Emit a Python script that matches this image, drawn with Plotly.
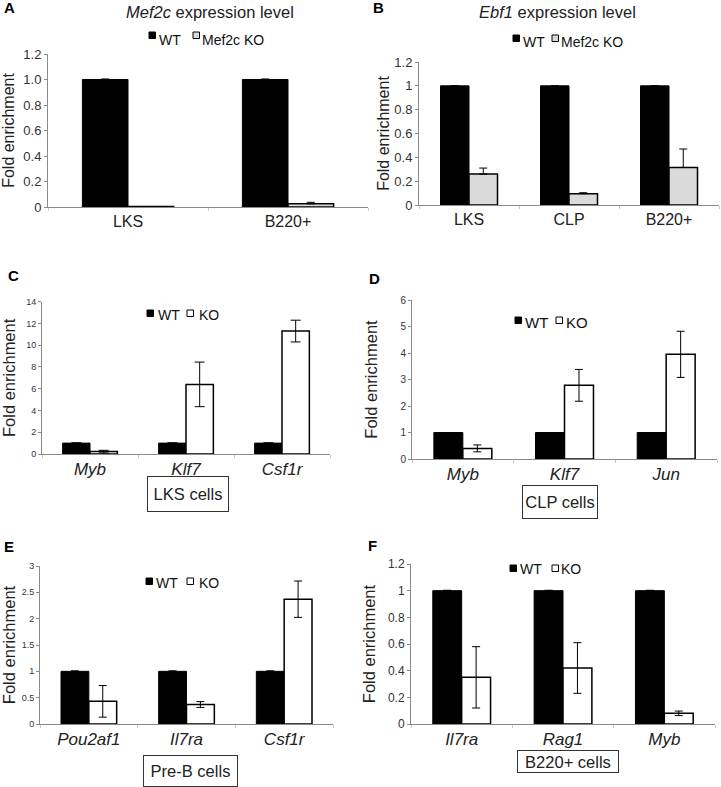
import plotly.graph_objects as go

# ---------------- DATA ----------------
a_cats = ["LKS", "B220+"]
a_wt = [1.0, 1.0]
a_wt_err = [0.004, 0.004]
a_ko = [0.003, 0.025]
a_ko_err = [0.0, 0.012]

b_cats = ["LKS", "CLP", "B220+"]
b_wt = [1.0, 1.0, 1.0]
b_wt_err = [0.0, 0.0, 0.0]
b_ko = [0.26, 0.095, 0.315]
b_ko_err = [0.05, 0.008, 0.155]

c_cats = ["Myb", "Klf7", "Csf1r"]
c_wt = [1.0, 1.0, 1.0]
c_wt_err = [0.04, 0.04, 0.04]
c_ko = [0.22, 6.4, 11.3]
c_ko_err = [0.12, 2.05, 1.0]

d_cats = ["Myb", "Klf7", "Jun"]
d_wt = [1.0, 1.0, 1.0]
d_wt_err = [0.0, 0.0, 0.0]
d_ko = [0.4, 2.78, 3.95]
d_ko_err = [0.13, 0.6, 0.87]

e_cats = ["Pou2af1", "Il7ra", "Csf1r"]
e_wt = [1.0, 1.0, 1.0]
e_wt_err = [0.01, 0.01, 0.01]
e_ko = [0.43, 0.37, 2.37]
e_ko_err = [0.3, 0.055, 0.345]

f_cats = ["Il7ra", "Rag1", "Myb"]
f_wt = [1.0, 1.0, 1.0]
f_wt_err = [0.003, 0.003, 0.003]
f_ko = [0.35, 0.42, 0.08]
f_ko_err = [0.23, 0.19, 0.017]

a_ticks = [0, 0.2, 0.4, 0.6, 0.8, 1.0, 1.2]
a_ticktext = ["0", "0.2", "0.4", "0.6", "0.8", "1.0", "1.2"]
b_ticks = [0, 0.2, 0.4, 0.6, 0.8, 1.0, 1.2]
b_ticktext = ["0", "0.2", "0.4", "0.6", "0.8", "1", "1.2"]
c_ticks = [0, 2, 4, 6, 8, 10, 12, 14]
c_ticktext = ["0", "2", "4", "6", "8", "10", "12", "14"]
d_ticks = [0, 1, 2, 3, 4, 5, 6]
d_ticktext = ["0", "1", "2", "3", "4", "5", "6"]
e_ticks = [0, 0.5, 1, 1.5, 2, 2.5, 3]
e_ticktext = ["0", "0.5", "1", "1.5", "2", "2.5", "3"]
f_ticks = [0, 0.2, 0.4, 0.6, 0.8, 1.0, 1.2]
f_ticktext = ["0", "0.2", "0.4", "0.6", "0.8", "1", "1.2"]

# ---------------- LAYOUT HELPERS ----------------
W, H = 721, 787
FONT = "Liberation Sans, Arial, sans-serif"
AXC = "#8a8a8a"


def fx(x):
    return x / W


def fy(y):
    return 1 - y / H


fig = go.Figure()

panels = [
    dict(cats=a_cats, wt=a_wt, wt_err=a_wt_err, ko=a_ko, ko_err=a_ko_err, sym=False,
         kocol="#dadada", koname="Mef2c KO", ymax=1.2, tv=a_ticks, tt=a_ticktext,
         x0=48, x1=368, yb=207, yt=54, tfs=13, cfs=16, ital=False, so=8, cap=4,
         leg=dict(s1=(149, 32), t1=(158, 40), s2=(193, 32), t2=(201, 40), sz=6.5, fs=14)),
    dict(cats=b_cats, wt=b_wt, wt_err=b_wt_err, ko=b_ko, ko_err=b_ko_err, sym=False,
         kocol="#dadada", koname="Mef2c KO", ymax=1.2, tv=b_ticks, tt=b_ticktext,
         x0=419, x1=719, yb=205, yt=62, tfs=13, cfs=16, ital=False, so=0, cap=4,
         leg=dict(s1=(513, 35), t1=(522, 42), s2=(552, 35), t2=(560, 42), sz=6.5, fs=14)),
    dict(cats=c_cats, wt=c_wt, wt_err=c_wt_err, ko=c_ko, ko_err=c_ko_err, sym=True,
         kocol="#ffffff", koname="KO", ymax=14, tv=c_ticks, tt=c_ticktext,
         x0=42, x1=330, yb=454, yt=301.7, tfs=9, cfs=17, ital=True, so=6, cap=5,
         leg=dict(s1=(147, 310), t1=(157, 314.5), s2=(187, 310), t2=(198, 314.5), sz=6.5, fs=14)),
    dict(cats=d_cats, wt=d_wt, wt_err=d_wt_err, ko=d_ko, ko_err=d_ko_err, sym=True,
         kocol="#ffffff", koname="KO", ymax=6, tv=d_ticks, tt=d_ticktext,
         x0=412, x1=717, yb=459, yt=300, tfs=10, cfs=17, ital=True, so=18, cap=4,
         leg=dict(s1=(515, 317), t1=(524, 322.5), s2=(556, 317), t2=(565, 322.5), sz=6.5, fs=15)),
    dict(cats=e_cats, wt=e_wt, wt_err=e_wt_err, ko=e_ko, ko_err=e_ko_err, sym=True,
         kocol="#ffffff", koname="KO", ymax=3, tv=e_ticks, tt=e_ticktext,
         x0=40, x1=333, yb=724, yt=566, tfs=9, cfs=17, ital=True, so=6, cap=4,
         leg=dict(s1=(146, 578), t1=(155, 582.5), s2=(187, 578), t2=(198, 582.5), sz=6.5, fs=14)),
    dict(cats=f_cats, wt=f_wt, wt_err=f_wt_err, ko=f_ko, ko_err=f_ko_err, sym=True,
         kocol="#ffffff", koname="KO", ymax=1.2, tv=f_ticks, tt=f_ticktext,
         x0=411, x1=715, yb=724, yt=564, tfs=12, cfs=17, ital=True, so=8, cap=4,
         leg=dict(s1=(510, 565), t1=(519, 569), s2=(552, 565), t2=(560, 569), sz=6.5, fs=14)),
]

layout_axes = {}
shapes = []
annotations = []


def errbar(vals, sym, cap):
    if sym:
        return dict(type="data", array=vals, symmetric=True,
                    color="black", thickness=1, width=cap)
    return dict(type="data", array=vals, arrayminus=[0] * len(vals), symmetric=False,
                color="black", thickness=1, width=cap)


for i, p in enumerate(panels):
    n = i + 1
    xa = "x" if n == 1 else f"x{n}"
    ya = "y" if n == 1 else f"y{n}"
    fig.add_trace(go.Bar(x=p["cats"], y=p["wt"], name="WT", xaxis=xa, yaxis=ya,
                         marker=dict(color="black", line=dict(color="black", width=1)),
                         error_y=errbar(p["wt_err"], p["sym"], p["cap"]), showlegend=False,
                         offsetgroup="wt"))
    fig.add_trace(go.Bar(x=p["cats"], y=p["ko"], name=p["koname"], xaxis=xa, yaxis=ya,
                         marker=dict(color=p["kocol"], line=dict(color="black", width=1.5)),
                         error_y=errbar(p["ko_err"], p["sym"], p["cap"]), showlegend=False,
                         offsetgroup="ko"))
    xkey = "xaxis" if n == 1 else f"xaxis{n}"
    ykey = "yaxis" if n == 1 else f"yaxis{n}"
    layout_axes[xkey] = dict(
        domain=[fx(p["x0"]), fx(p["x1"])], anchor=ya, type="category",
        showline=True, linecolor=AXC, linewidth=1, showgrid=False, zeroline=False,
        ticks="outside", tickson="boundaries", ticklen=3, tickcolor="#c8c8c8",
        tickfont=dict(family=FONT, size=p["cfs"], color="#222",
                      style="italic" if p["ital"] else "normal"),
        fixedrange=True,
    )
    layout_axes[ykey] = dict(
        domain=[fy(p["yb"]), fy(p["yt"])], anchor=xa, range=[0, p["ymax"]],
        showline=True, linecolor=AXC, linewidth=1, showgrid=False, zeroline=False,
        ticks="outside", ticklen=3, tickcolor=AXC,
        tickvals=p["tv"], ticktext=p["tt"],
        tickfont=dict(family=FONT, size=p["tfs"], color="#333"),
        title=dict(text="Fold enrichment",
                   font=dict(family=FONT, size=16 if n <= 2 else 16.5, color="#222"),
                   standoff=p["so"]),
        fixedrange=True,
    )
    # legend swatches and labels
    lg = p["leg"]
    for (sx, sy), fill in [(lg["s1"], "black"), (lg["s2"], p["kocol"])]:
        shapes.append(dict(type="rect", xref="paper", yref="paper",
                           x0=fx(sx), x1=fx(sx + lg["sz"]), y0=fy(sy), y1=fy(sy + lg["sz"]),
                           fillcolor=fill, line=dict(color="black", width=1)))
    for (tx, ty), txt in [(lg["t1"], "WT"), (lg["t2"], p["koname"])]:
        annotations.append(dict(text=txt, x=fx(tx - 1), y=fy(ty), xref="paper", yref="paper",
                                showarrow=False, xanchor="left", yanchor="middle",
                                font=dict(family=FONT, size=lg["fs"], color="#111")))

# panel letters
for letter, x, y in [("A", 9, 8), ("B", 378, 8), ("C", 13, 275), ("D", 374, 278),
                     ("E", 9, 546), ("F", 372, 545)]:
    annotations.append(dict(text=f"<b>{letter}</b>", x=fx(x), y=fy(y), xref="paper", yref="paper",
                            showarrow=False, font=dict(family=FONT, size=15, color="black"),
                            xanchor="center", yanchor="middle"))
# panel titles
annotations.append(dict(text="<i>Mef2c</i> expression level", x=fx(210), y=fy(12),
                        xref="paper", yref="paper", showarrow=False,
                        font=dict(family=FONT, size=16.5, color="#222"),
                        xanchor="center", yanchor="middle"))
annotations.append(dict(text="<i>Ebf1</i> expression level", x=fx(557), y=fy(12),
                        xref="paper", yref="paper", showarrow=False,
                        font=dict(family=FONT, size=16.5, color="#222"),
                        xanchor="center", yanchor="middle"))
# boxed cell-type labels
for txt, cx, cy, bw, bh in [("LKS cells", 188, 494, 80, 34), ("CLP cells", 560, 502, 74, 32),
                            ("Pre-B cells", 190, 771, 93, 30), ("B220+ cells", 568, 761, 100, 21)]:
    annotations.append(dict(text=txt, x=fx(cx), y=fy(cy), xref="paper", yref="paper",
                            showarrow=False, font=dict(family=FONT, size=16.5, color="#222"),
                            xanchor="center", yanchor="middle", width=bw, height=bh,
                            bordercolor="#333", borderwidth=1, borderpad=0, bgcolor="white"))

fig.update_layout(
    width=W, height=H, autosize=False,
    margin=dict(l=0, r=0, t=0, b=0, pad=0, autoexpand=False),
    paper_bgcolor="white", plot_bgcolor="white",
    barmode="group", bargap=0.43, bargroupgap=0,
    annotations=annotations, shapes=shapes, showlegend=False,
    font=dict(family=FONT),
    **layout_axes,
)

fig.write_html("out.html", config={"displayModeBar": False, "responsive": False},
               post_script="document.body.style.margin='0px';")
